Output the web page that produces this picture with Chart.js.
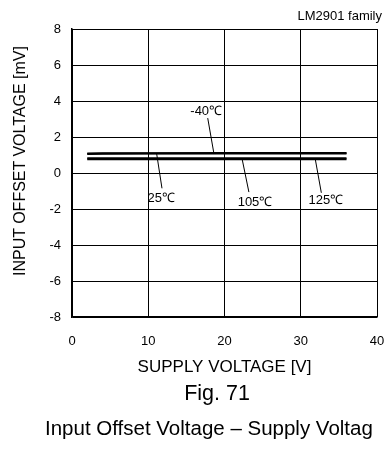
<!DOCTYPE html>
<html>
<head>
<meta charset="utf-8">
<script src="https://cdn.jsdelivr.net/npm/chart.js@4/dist/chart.umd.min.js"></script>
<style>
  html, body { margin: 0; padding: 0; background: #fff; overflow: hidden; }
  body { width: 385px; height: 461px; position: relative; font-family: 'Liberation Sans', Arial, sans-serif; color: #000; }
  #wrap { position: absolute; left: 0; top: 0; width: 385px; height: 461px; }
  .txt { position: absolute; white-space: nowrap; line-height: 1; }
  #family { right: 3px; top: 9px; font-size: 13px; }
  #ytitle { left: 20px; top: 161px; font-size: 16px; transform: translate(-50%, -50%) rotate(-90deg); }
  #fig { left: 217px; top: 394px; font-size: 21.5px; transform: translate(-50%, -50%); }
  #caption { left: 45px; top: 418px; font-size: 20.5px; }
</style>
</head>
<body>
<div id="wrap"><canvas id="chartOffset"></canvas></div>
<div class="txt" id="family">LM2901 family</div>
<div class="txt" id="ytitle">INPUT OFFSET VOLTAGE [mV]</div>
<div class="txt" id="fig">Fig. 71</div>
<div class="txt" id="caption">Input Offset Voltage – Supply Voltag</div>
<script>
// Supply voltage [V] and offset voltage [mV] per temperature
const supplyVoltage = [2, 4, 10, 20, 30, 36];
const offsetM40 = [1.09, 1.10, 1.10, 1.11, 1.11, 1.11];
const offset25 = [1.05, 1.07, 1.08, 1.08, 1.08, 1.08];
const offset105 = [0.82, 0.82, 0.82, 0.82, 0.82, 0.82];
const offset125 = [0.76, 0.76, 0.76, 0.76, 0.76, 0.76];
const seriesNames = ['-40℃', '25℃', '105℃', '125℃'];

const xTicks = [0, 10, 20, 30, 40];
const yTicks = [-8, -6, -4, -2, 0, 2, 4, 6, 8];

const FONT = "'Liberation Sans', Arial, sans-serif";

function toPoints(values) {
    return supplyVoltage.map((v, i) => ({ x: v, y: values[i] }));
}

// Temperature labels with leader lines (in data units)
const callouts = [
    { text: seriesNames[0], tx: 17.6, ty: 3.44, from: [17.8, 3.05], to: [18.6, 1.11] },
    { text: seriesNames[1], tx: 11.7, ty: -1.39, from: [11.1, 1.08], to: [11.8, -0.85] },
    { text: seriesNames[2], tx: 24.0, ty: -1.61, from: [22.3, 0.80], to: [23.2, -1.06] },
    { text: seriesNames[3], tx: 33.3, ty: -1.5, from: [31.9, 0.78], to: [32.7, -1.1] }
];

const calloutPlugin = {
    id: 'callouts',
    afterDatasetsDraw(chart) {
        const { ctx, scales: { x, y } } = chart;
        ctx.save();
        ctx.strokeStyle = '#000';
        ctx.lineWidth = 1;
        ctx.fillStyle = '#000';
        ctx.font = '13px ' + FONT;
        ctx.textAlign = 'center';
        ctx.textBaseline = 'middle';
        callouts.forEach(c => {
            ctx.beginPath();
            ctx.moveTo(x.getPixelForValue(c.from[0]), y.getPixelForValue(c.from[1]));
            ctx.lineTo(x.getPixelForValue(c.to[0]), y.getPixelForValue(c.to[1]));
            ctx.stroke();
            ctx.fillText(c.text, x.getPixelForValue(c.tx), y.getPixelForValue(c.ty));
        });
        ctx.restore();
    }
};

const lineStyle = { borderColor: '#000', borderWidth: 2, pointRadius: 0, tension: 0, fill: false };

const ctxOffset = document.getElementById('chartOffset').getContext('2d');
new Chart(ctxOffset, {
    type: 'line',
    data: {
        datasets: [
            { label: seriesNames[0], data: toPoints(offsetM40), ...lineStyle },
            { label: seriesNames[1], data: toPoints(offset25), ...lineStyle },
            { label: seriesNames[2], data: toPoints(offset105), ...lineStyle },
            { label: seriesNames[3], data: toPoints(offset125), ...lineStyle }
        ]
    },
    options: {
        responsive: true,
        maintainAspectRatio: false,
        animation: false,
        layout: { padding: { top: 29, right: 8, left: 0, bottom: 79 } },
        plugins: { legend: { display: false }, tooltip: { enabled: false } },
        scales: {
            x: {
                type: 'linear',
                min: 0,
                max: 40,
                afterBuildTicks: scale => { scale.ticks = xTicks.map(v => ({ value: v })); },
                afterFit: scale => { scale.height = 65; scale.paddingLeft = 0; scale.paddingRight = 0; },
                grid: { color: '#000', lineWidth: 1, drawTicks: false },
                border: { color: '#000', width: 1.5 },
                ticks: { color: '#000', padding: 17, font: { family: FONT, size: 13 } },
                title: { display: true, text: 'SUPPLY VOLTAGE [V]', color: '#000', font: { family: FONT, size: 17 } }
            },
            y: {
                min: -8,
                max: 8,
                afterBuildTicks: scale => { scale.ticks = yTicks.map(v => ({ value: v })); },
                afterFit: scale => { scale.width = 72; scale.paddingTop = 0; scale.paddingBottom = 0; },
                grid: { color: '#000', lineWidth: 1, drawTicks: false },
                border: { color: '#000', width: 1.5 },
                ticks: { color: '#000', padding: 11, font: { family: FONT, size: 13 } }
            }
        }
    },
    plugins: [calloutPlugin]
});
</script>
</body>
</html>
